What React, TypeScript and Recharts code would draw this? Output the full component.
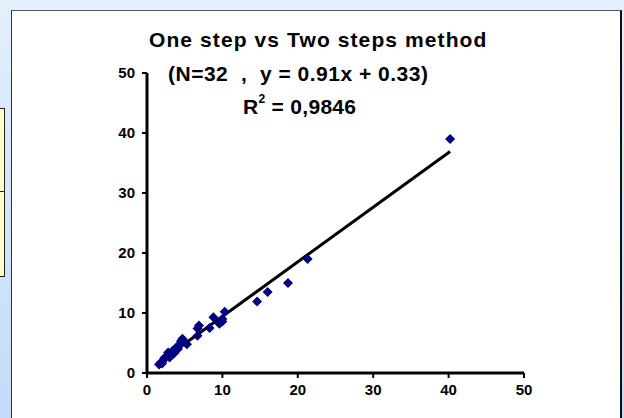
import { ScatterChart, Scatter, XAxis, YAxis, ReferenceLine } from "recharts";

const oneStep = [
  1.6, 1.8, 2.0, 2.1, 2.3, 2.6, 2.8, 3.0, 3.1, 3.4, 3.6, 3.9, 4.1, 4.3, 4.5, 4.7,
  5.0, 5.3, 6.7, 6.7, 6.9, 8.3, 8.8, 9.6, 10.0, 10.0, 10.3, 14.6, 16.0, 18.7, 21.3, 40.2,
];
const twoSteps = [
  1.4, 1.7, 1.6, 2.0, 2.5, 2.8, 3.4, 2.6, 3.2, 3.7, 3.3, 4.3, 4.0, 4.6, 5.3, 5.7,
  5.2, 4.8, 6.2, 7.4, 7.9, 7.5, 9.3, 8.2, 9.0, 8.6, 10.2, 11.9, 13.5, 15.0, 19.0, 39.0,
];
const axisTicks = [0, 10, 20, 30, 40, 50];
const slope = 0.91;
const intercept = 0.33;
const fitRange = [1.6, 40.2];

const points = oneStep.map((x, i) => ({ x, y: twoSteps[i] }));

const font = "'Liberation Sans', Arial, sans-serif";

const Diamond = (props: any) => {
  const { cx, cy } = props;
  const r = 5;
  return (
    <polygon
      points={`${cx},${cy - r} ${cx + r},${cy} ${cx},${cy + r} ${cx - r},${cy}`}
      fill="#000080"
    />
  );
};

export default function App() {
  return (
    <div
      style={{
        position: "fixed",
        left: 0,
        top: 0,
        width: 624,
        height: 418,
        overflow: "hidden",
        background: "linear-gradient(#e2effd, #c3dbf8)",
        fontFamily: font,
      }}
    >
      {/* bits of the neighbouring slide object on the left */}
      <div
        style={{
          position: "absolute",
          left: -2,
          top: 108,
          width: 5,
          height: 167,
          background: "#ffffcc",
          border: "1px solid #222",
        }}
      />
      <div style={{ position: "absolute", left: 0, top: 191, width: 4, height: 1, background: "#222" }} />

      <div
        style={{
          position: "absolute",
          left: 11,
          top: 10,
          width: 608,
          height: 420,
          background: "#fff",
          borderLeft: "1px solid #333",
          borderTop: "1px solid #555",
          borderRight: "2px solid #111",
        }}
      >
        <ScatterChart
          width={608}
          height={408}
          margin={{ top: 62, right: 96, bottom: 16, left: 95 }}
        >
          <XAxis
            type="number"
            dataKey="x"
            domain={[0, 50]}
            ticks={axisTicks}
            height={30}
            tickSize={5}
            tickMargin={6}
            axisLine={{ stroke: "#000", strokeWidth: 3 }}
            tickLine={{ stroke: "#000", strokeWidth: 2 }}
            tick={{ fill: "#000", fontSize: 15, fontWeight: "bold", fontFamily: font }}
          />
          <YAxis
            type="number"
            dataKey="y"
            domain={[0, 50]}
            ticks={axisTicks}
            width={40}
            tickSize={5}
            tickMargin={7}
            axisLine={{ stroke: "#000", strokeWidth: 3 }}
            tickLine={{ stroke: "#000", strokeWidth: 2 }}
            tick={{ fill: "#000", fontSize: 15, fontWeight: "bold", fontFamily: font }}
          />
          <ReferenceLine
            segment={[
              { x: fitRange[0], y: slope * fitRange[0] + intercept },
              { x: fitRange[1], y: slope * fitRange[1] + intercept },
            ]}
            stroke="#000"
            strokeWidth={3}
          />
          <Scatter data={points} shape={Diamond} isAnimationActive={false} />
        </ScatterChart>

        <div
          style={{
            position: "absolute",
            left: 137,
            top: 17,
            fontSize: 21,
            fontWeight: "bold",
            letterSpacing: 1.1,
            whiteSpace: "pre",
          }}
        >
          One step vs Two steps method
        </div>
        <div
          style={{
            position: "absolute",
            left: 156,
            top: 51,
            fontSize: 21,
            fontWeight: "bold",
            letterSpacing: 0.5,
            whiteSpace: "pre",
          }}
        >
          {"(N=32  ,  y = 0.91x + 0.33)"}
        </div>
        <div
          style={{
            position: "absolute",
            left: 231,
            top: 84,
            fontSize: 21,
            fontWeight: "bold",
            letterSpacing: 0.3,
            whiteSpace: "pre",
          }}
        >
          R<sup style={{ fontSize: 12, verticalAlign: "top", position: "relative", top: -3 }}>2</sup> = 0,9846
        </div>
      </div>
    </div>
  );
}
